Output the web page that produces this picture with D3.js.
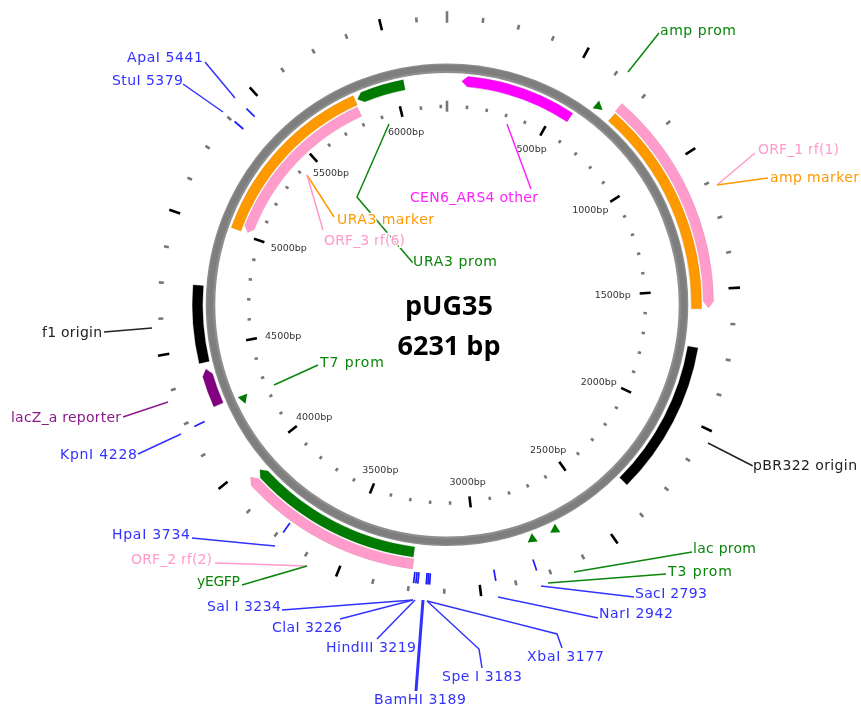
<!DOCTYPE html>
<html>
<head>
<meta charset="utf-8">
<script src="https://cdn.jsdelivr.net/npm/d3@7"></script>
<style>
  html, body { margin: 0; background: #fff; }
  svg { display: block; }
</style>
</head>
<body>
<script>
// plasmid data
var plasmidName = "pUG35"
var plasmidLength = 6231

var featureNames = ["CEN6_ARS4", "URA3 prom", "URA3", "ORF_3", "amp", "ORF_1", "pBR322", "f1", "lacZ_a", "yEGFP", "ORF_2"]
var featureStart = [66, 5824, 5014, 5018, 715, 710, 1727, 4442, 4264, 3247, 3244]
var featureEnd = [576, 6040, 5812, 5809, 1574, 1570, 2337, 4750, 4414, 3956, 3958]
// which end carries the arrow head: -1 at start, 1 at end, 0 none
var featureHead = [-1, -1, 0, -1, 0, 1, 0, 0, 1, 1, 1]
var featureTrack = ["inner", "inner", "inner", "inner2", "outer", "outer2", "outer", "outer", "outer", "outer", "outer2"]

var siteNames = ["ApaI", "StuI", "KpnI", "HpaI", "SalI", "ClaI", "HindIII", "BamHI", "SpeI", "XbaI", "NarI", "SacI"]
var sitePositions = [5441, 5379, 4228, 3734, 3234, 3226, 3219, 3189, 3183, 3177, 2942, 2793]

var promoterNames = ["amp prom", "T7 prom", "lac prom", "T3 prom"]
var promoterPositions = [645, 4246, 2671, 2769]
var promoterTrack = ["outer", "inner", "outer", "outer"]

// styles
var w = 861
var h = 706
var cx = 447
var cy = 304.7
var blue = "#3232ff"
var pink = "#ff9acb"
var orange = "#ff9a00"
var green = "#0a850a"
var purple = "#8a1a8a"
var magenta = "#ff22ff"
var dark = "#222222"

var featureColors = ["#ff00ff", "#007a00", "#ff9900", "#ff9ccc", "#ff9900", "#ff9ccc", "#000000", "#000000", "#800080", "#007a00", "#ff9ccc"]
var promoterTilt = [10, -80, -2, -6]

// labels and their leader lines: [text, colour, left x, baseline, width, leader points]
var labels = [
    ["ApaI 5441", blue, 127, 62, 76, [[205, 62], [235, 98]]],
    ["StuI 5379", blue, 112, 85, 71, [[183, 84], [223, 112]]],
    ["f1 origin", dark, 42, 337, 60, [[104, 332], [152, 328]]],
    ["lacZ_a reporter", purple, 11, 422, 110, [[123, 417], [168, 402]]],
    ["KpnI 4228", blue, 60, 459, 77, [[138, 454], [181, 434]]],
    ["HpaI 3734", blue, 112, 539, 78, [[192, 538], [275, 546]]],
    ["ORF_2 rf(2)", pink, 131, 564, 81, [[215, 563], [307, 566]]],
    ["yEGFP", green, 197, 586, 43, [[242, 585], [307, 566]]],
    ["Sal I 3234", blue, 207, 611, 74, [[282, 610], [413, 600]]],
    ["ClaI 3226", blue, 272, 632, 70, [[340, 619], [413, 600]]],
    ["HindIII 3219", blue, 326, 652, 90, [[377, 639], [415, 600]]],
    ["BamHI 3189", blue, 374, 704, 92, [[416, 691], [423, 600]]],
    ["Spe I 3183", blue, 442, 681, 80, [[427, 601], [479, 649], [482, 668]]],
    ["XbaI 3177", blue, 527, 661, 77, [[427, 601], [557, 634], [562, 648]]],
    ["NarI 2942", blue, 599, 618, 74, [[498, 597], [598, 618]]],
    ["SacI 2793", blue, 635, 598, 72, [[541, 586], [634, 597]]],
    ["T3 prom", green, 668, 576, 64, [[548, 583], [666, 574]]],
    ["lac prom", green, 693, 553, 63, [[574, 572], [692, 552]]],
    ["pBR322 origin", dark, 753, 470, 104, [[708, 443], [753, 466]]],
    ["amp prom", green, 660, 35, 76, [[628, 72], [659, 33]]],
    ["ORF_1 rf(1)", pink, 758, 154, 81, [[717, 185], [755, 153]]],
    ["amp marker", orange, 770, 182, 89, [[717, 185], [768, 178]]],
    ["CEN6_ARS4 other", magenta, 410, 202, 128, [[507, 124], [531, 189]]],
    ["URA3 marker", orange, 337, 224, 97, [[334, 217], [307, 175]]],
    ["ORF_3 rf(6)", pink, 324, 245, 81, [[323, 230], [307, 175]]],
    ["URA3 prom", green, 413, 266, 84, [[389, 124], [357, 197], [413, 263]]],
    ["T7 prom", green, 320, 367, 64, [[318, 365], [274, 385]]]
]

// bp to clockwise angle from the top
var angle = d3.scaleLinear().domain([0, plasmidLength]).range([0, 2 * Math.PI])
var trackRadius = d3.scaleOrdinal()
    .domain(["inner2", "inner", "outer", "outer2"])
    .range([212, 224, 249.5, 261.5])

function polar(bp, r) {
    var a = angle(bp)
    return [r * Math.sin(a), -r * Math.cos(a)]
}

var svg = d3.select("body")
    .append("svg")
    .attr("width", w)
    .attr("height", h)

// the reference is a slightly soft screenshot
svg.append("filter")
    .attr("id", "soft")
    .attr("filterUnits", "userSpaceOnUse")
    .attr("x", 0).attr("y", 0).attr("width", w).attr("height", h)
    .append("feGaussianBlur")
    .attr("stdDeviation", 0.6)

var root = svg.append("g").attr("filter", "url(#soft)")
root.append("rect").attr("width", w).attr("height", h).attr("fill", "#fff")

var plot = root.append("g").attr("transform", "translate(" + cx + "," + cy + ")")

// backbone ring
var ringBands = [[236.5, "#8e8e8e", 9.6], [237, "#7e7e7e", 6]]
plot.selectAll("circle.ring")
    .data(ringBands)
    .enter()
    .append("circle")
    .attr("class", "ring")
    .attr("r", function(d) { return d[0] })
    .attr("fill", "none")
    .attr("stroke", function(d) { return d[1] })
    .attr("stroke-width", function(d) { return d[2] })

// tick rings
function drawTicks(step, r0, r1, major, cls) {
    var ticks = d3.range(0, plasmidLength, step)
    plot.selectAll("line." + cls)
        .data(ticks)
        .enter()
        .append("line")
        .attr("class", cls)
        .each(function(d) {
            var isMajor = d % 500 === 0
            var a = polar(d, isMajor ? major[0] : r0)
            var b = polar(d, isMajor ? major[1] : r1)
            d3.select(this)
                .attr("x1", a[0]).attr("y1", a[1])
                .attr("x2", b[0]).attr("y2", b[1])
                .attr("stroke", d === 0 ? "#777" : isMajor ? "#000" : "#777")
                .attr("stroke-width", 2.6)
        })
}
drawTicks(100, 196.6, 200, [193, 204], "inner-tick")
drawTicks(125, 284, 289, [282, 293.5], "outer-tick")

// leader lines
var line = d3.line()
root.selectAll("path.leader")
    .data(labels)
    .enter()
    .append("path")
    .attr("class", "leader")
    .attr("d", function(d) { return line(d[5]) })
    .attr("fill", "none")
    .attr("stroke", function(d) { return d[1] })
    .attr("stroke-width", function(d) { return d[0].indexOf("BamHI") === 0 ? 3 : 1.5 })

// inner bp labels
plot.selectAll("text.bp")
    .data(d3.range(500, plasmidLength, 500))
    .enter()
    .append("text")
    .attr("class", "bp")
    .attr("x", function(d) {
        var s = Math.sin(angle(d))
        return 178 * s - 12 * s * s * s
    })
    .attr("y", function(d) { return -178 * Math.cos(angle(d)) + 3.5 })
    .attr("text-anchor", "middle")
    .attr("font-family", "'DejaVu Sans', sans-serif")
    .attr("font-size", 9.5)
    .attr("fill", "#333")
    .attr("stroke", "#fff")
    .attr("stroke-width", 2)
    .attr("paint-order", "stroke")
    .text(function(d) { return d + "bp" })

// features
function featurePath(i) {
    var r = trackRadius(featureTrack[i])
    var half = 5.1
    var headBp = 25
    var s = featureStart[i]
    var e = featureEnd[i]
    var head = featureHead[i]
    var a0 = angle(s) - Math.PI / 2
    var a1 = angle(e) - Math.PI / 2
    var p = d3.path()
    if (head === 0) {
        p.arc(0, 0, r + half, a0, a1)
        p.arc(0, 0, r - half, a1, a0, true)
    } else if (head === 1) {
        var b1 = angle(e - headBp) - Math.PI / 2
        p.arc(0, 0, r + half, a0, b1)
        p.lineTo.apply(p, polar(e, r))
        p.arc(0, 0, r - half, b1, a0, true)
    } else {
        var b0 = angle(s + headBp) - Math.PI / 2
        p.moveTo.apply(p, polar(s, r))
        p.arc(0, 0, r + half, b0, a1)
        p.arc(0, 0, r - half, a1, b0, true)
    }
    p.closePath()
    return p.toString()
}

plot.selectAll("path.feature")
    .data(d3.range(featureNames.length))
    .enter()
    .append("path")
    .attr("class", "feature")
    .attr("d", featurePath)
    .attr("fill", function(i) { return featureColors[i] })
    .attr("stroke", function(i) { return d3.color(featureColors[i]).darker(0.7) })
    .attr("stroke-width", 0.6)
    .attr("stroke-opacity", 0.5)

// promoter triangles
plot.selectAll("path.promoter")
    .data(d3.range(promoterNames.length))
    .enter()
    .append("path")
    .attr("class", "promoter")
    .attr("d", d3.symbol().type(d3.symbolTriangle).size(44))
    .attr("transform", function(i) {
        var c = polar(promoterPositions[i], trackRadius(promoterTrack[i]))
        return "translate(" + c[0] + "," + c[1] + ") rotate(" + promoterTilt[i] + ")"
    })
    .attr("fill", "#007a00")

// restriction sites
plot.selectAll("line.site")
    .data(sitePositions)
    .enter()
    .append("line")
    .attr("class", "site")
    .each(function(d) {
        var a = polar(d, 269)
        var b = polar(d, 280.5)
        d3.select(this)
            .attr("x1", a[0]).attr("y1", a[1])
            .attr("x2", b[0]).attr("y2", b[1])
    })
    .attr("stroke", "#1e1eff")
    .attr("stroke-width", 1.7)

// feature and site labels, white halo breaks the leaders they sit on
root.selectAll("text.label")
    .data(labels)
    .enter()
    .append("text")
    .attr("class", "label")
    .attr("x", function(d) { return d[2] })
    .attr("y", function(d) { return d[3] })
    .attr("textLength", function(d) { return d[4] })
    .attr("lengthAdjust", "spacing")
    .attr("font-family", "'DejaVu Sans', sans-serif")
    .attr("font-size", 14)
    .attr("fill", function(d) { return d[1] })
    .attr("stroke", "#fff")
    .attr("stroke-width", 3)
    .attr("paint-order", "stroke")
    .text(function(d) { return d[0] })

// centre title
var title = [plasmidName, plasmidLength + " bp"]
root.selectAll("text.title")
    .data(title)
    .enter()
    .append("text")
    .attr("class", "title")
    .attr("x", cx + 2)
    .attr("y", function(d, i) { return 315 + i * 40 })
    .attr("text-anchor", "middle")
    .attr("font-family", "'Open Sans', sans-serif")
    .attr("font-weight", "bold")
    .attr("font-size", 27)
    .attr("fill", "#000")
    .text(function(d) { return d })
</script>
</body>
</html>
